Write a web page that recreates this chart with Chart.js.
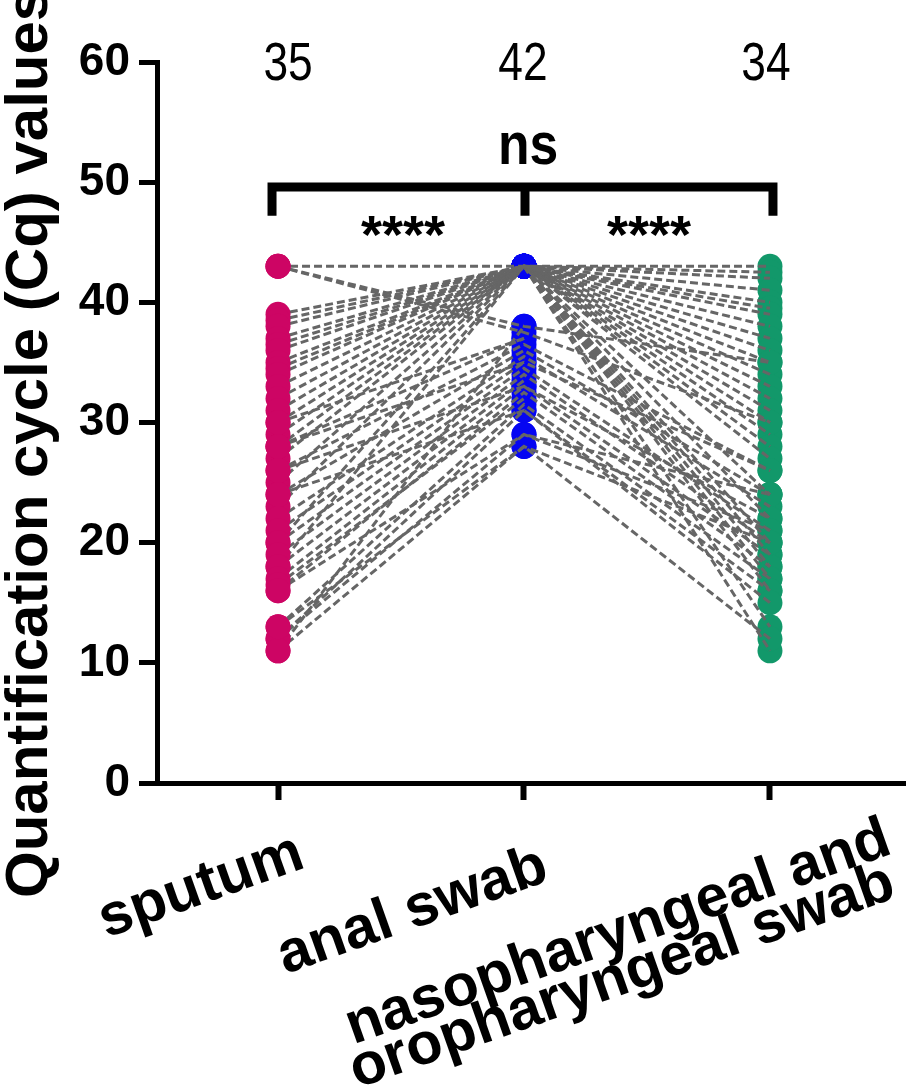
<!DOCTYPE html>
<html>
<head>
<meta charset="utf-8">
<script src="https://cdn.jsdelivr.net/npm/chart.js@4.4.1/dist/chart.umd.min.js"></script>
<style>
  html, body { margin: 0; padding: 0; background: #fff; overflow: hidden; }
  #wrap { width: 906px; height: 1091px; position: relative; }
  canvas { display: block; }
</style>
</head>
<body>
<div id="wrap"><canvas id="myChart"></canvas></div>
<script>
// sample types (x categories) and the n shown above each column
const categories = ["sputum", "anal swab", ["nasopharyngeal and", "oropharyngeal swab"]]
const sampleCounts = ["35", "42", "34"]
const yTicks = [0, 10, 20, 30, 40, 50, 60]

// Cq values per patient (same index = same patient), null = no value for that pair
const sputumValues = [
    43, 39, 38.5, 38, 37, 36.5, 36, 35, 34.5, 34, 33, 32, 31, 30, 29, 27, 25, 23, 20, 18, 28, null, null, null, null, null, null, null,
    43, 43, 28, 26, 24, 22, 21, 20, 19, 18, 17, 16, 16.5, 13, 12, 11, 30, 28, 26, 24, 12, 16, 11, 13
]
const analValues = [
    43, 43, 43, 43, 43, 43, 43, 43, 43, 43, 43, 43, 43, 43, 43, 43, 43, 43, 43, 43, 43, 43, 43, 43, 43, 43, 43, 43,
    38, 37.5, 37, 36.5, 36, 35.5, 35, 34.5, 34, 33.5, 33, 32.5, 32, 31.5, 31, 38, 37, 35, 33, 31, 29, 29, 28, 28
]
const nasoValues = [
    43, 42.5, 42, 41, 40, 39.5, 39, 38, 37, 36, 35, 34, 33, 32, 31, 30, 29, 28, 27, 24, 22, 20, 19, 18, 17, 16, 13, 11,
    35, 30, null, 26, 24, 23, null, 21, 20, null, 19, 18, null, 17, 16, null, null, 26, 22, 15, 24, 21, 12, 20
]

// significance brackets: [from, to, label]
const comparisons = [[0, 2, "ns"], [0, 1, "****"], [1, 2, "****"]]

const colors = ["#CD0564", "#0505F2", "#12986A"]

const boldFont = "'Liberation Sans', Arial, sans-serif"

function main() {
    const ctx = document.getElementById("myChart")

    const pairLines = analValues.map((a, i) => ({
        type: "line",
        data: [
            { x: 0, y: sputumValues[i] },
            { x: 1, y: a },
            { x: 2, y: nasoValues[i] },
        ],
        borderColor: "#666666",
        borderWidth: 3,
        borderDash: [8, 4],
        pointRadius: 0,
        tension: 0,
        spanGaps: false,
        order: 1,
    }))

    const groups = [sputumValues, analValues, nasoValues]
    const dots = groups.map((vals, g) => ({
        type: "scatter",
        data: vals.filter(v => v !== null).map(v => ({ x: g, y: v })),
        backgroundColor: colors[g],
        borderWidth: 0,
        pointRadius: 12.5,
        order: g === 0 ? 0 : 2,
    }))

    new Chart(ctx, {
        data: { datasets: [...dots, ...pairLines] },
        options: {
            animation: false,
            responsive: true,
            maintainAspectRatio: false,
            layout: { autoPadding: false, padding: { top: 62, left: 0, right: 0, bottom: 0 } },
            plugins: {
                legend: { display: false },
                tooltip: { enabled: false },
            },
            scales: {
                x: {
                    type: "linear",
                    min: -0.492,
                    max: 2.553,
                    afterBuildTicks: s => { s.ticks = categories.map((c, i) => ({ value: i })) },
                    afterFit: s => { s.height = 308 },
                    ticks: { display: false },
                    grid: { drawOnChartArea: false, tickLength: 17, tickWidth: 6, tickColor: "#000" },
                    border: { display: true, color: "#000", width: 5 },
                },
                y: {
                    min: 0,
                    max: 60,
                    afterBuildTicks: s => { s.ticks = yTicks.map(v => ({ value: v })) },
                    afterFit: s => { s.width = 157 },
                    ticks: {
                        color: "#000",
                        padding: 9,
                        font: { family: boldFont, weight: "bold", size: 46 },
                    },
                    grid: { drawOnChartArea: false, tickLength: 18, tickWidth: 5, tickColor: "#000" },
                    border: { display: true, color: "#000", width: 5 },
                },
            },
        },
        plugins: [annotations],
    })
}

// narrow text: regular font squeezed horizontally
function narrowText(c, text, cx, baseline, font, squeeze) {
    c.save()
    c.translate(cx, baseline)
    c.scale(squeeze, 1)
    c.font = font
    c.textAlign = "center"
    c.fillText(text, 0, 0)
    c.restore()
}

const annotations = {
    id: "annotations",
    afterDraw(chart) {
        const c = chart.ctx
        const x = chart.scales.x
        const y = chart.scales.y
        c.save()
        c.fillStyle = "#000"
        c.strokeStyle = "#000"
        c.textBaseline = "alphabetic"

        // counts above columns
        const countShift = [10, -1, -4]
        sampleCounts.forEach((t, i) => {
            narrowText(c, t, x.getPixelForValue(i) + countShift[i], 80, "54px " + boldFont, 0.82)
        })

        // bracket
        const barY = y.getPixelForValue(49.6)
        const tickEnd = y.getPixelForValue(47.2)
        const xl = x.getPixelForValue(0) - 6
        const xm = x.getPixelForValue(1) + 1
        const xr = x.getPixelForValue(2) + 3
        c.lineWidth = 9
        c.lineCap = "butt"
        c.beginPath()
        c.moveTo(xl, tickEnd)
        c.lineTo(xl, barY)
        c.lineTo(xr, barY)
        c.lineTo(xr, tickEnd)
        c.moveTo(xm, barY)
        c.lineTo(xm, tickEnd)
        c.stroke()

        comparisons.forEach(([a, b, label]) => {
            const cx = (x.getPixelForValue(a) + x.getPixelForValue(b)) / 2
            if (label === "ns") {
                narrowText(c, label, cx + 4, 164, "bold 60px " + boldFont, 0.86)
            } else {
                c.font = "bold 54px " + boldFont
                c.textAlign = "center"
                c.fillText(label, cx + 2, 253)
            }
        })

        // y-axis title
        c.save()
        c.translate(47, 898)
        c.rotate(-Math.PI / 2)
        c.textAlign = "left"
        c.font = "bold 60px " + boldFont
        c.fillText("Quantification cycle (Cq) values", 0, 0)
        c.restore()

        // rotated category labels, right end of baseline anchored near the tick
        const angle = 19.5 * Math.PI / 180
        const anchors = [[[29, 84]], [[27, 97]], [[124, 70], [128, 114]]]
        c.font = "bold 59px " + boldFont
        c.textAlign = "right"
        categories.forEach((label, i) => {
            const lines = Array.isArray(label) ? label : [label]
            lines.forEach((line, j) => {
                const [dx, dy] = anchors[i][j]
                c.save()
                c.translate(x.getPixelForValue(i) + dx, chart.chartArea.bottom + dy)
                c.rotate(-angle)
                c.fillText(line, 0, 0)
                c.restore()
            })
        })

        c.restore()
    },
}

document.addEventListener("DOMContentLoaded", main)
</script>
</body>
</html>
